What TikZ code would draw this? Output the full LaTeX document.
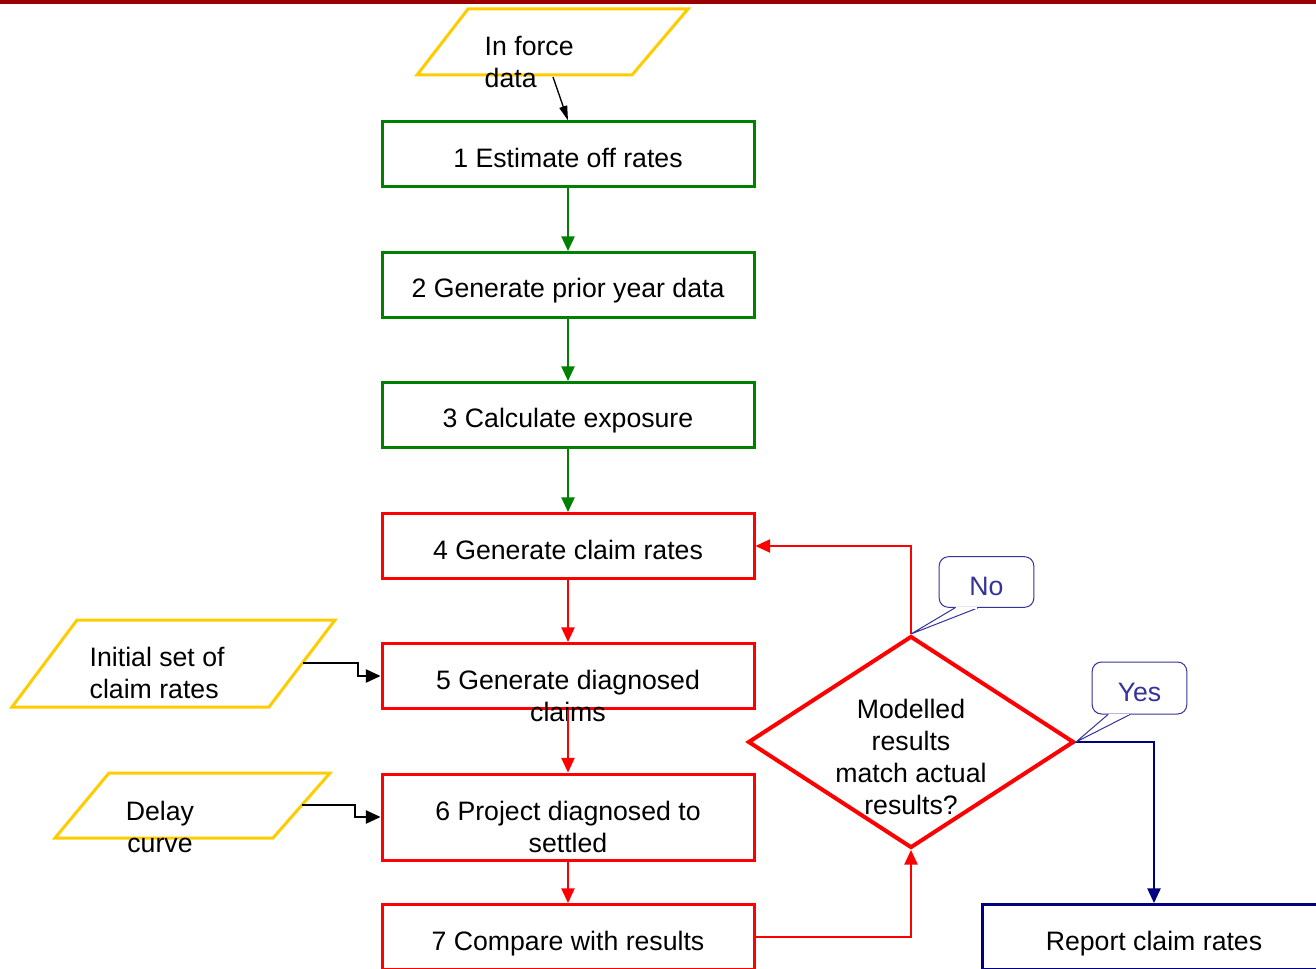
\documentclass[tikz,border=0pt]{standalone}
\usepackage{fontspec}
\setmainfont{Liberation Sans}
\usetikzlibrary{arrows.meta,shapes.geometric}
\definecolor{flowgreen}{RGB}{0,128,0}
\definecolor{flowred}{RGB}{255,0,0}
\definecolor{flowblue}{RGB}{0,0,128}
\definecolor{datayellow}{RGB}{255,204,0}
\definecolor{barred}{RGB}{153,0,0}
\definecolor{tagblue}{RGB}{51,51,153}

\begin{document}
\begin{tikzpicture}[x=0.75pt,y=-0.75pt,
  every node/.style={font=\fontsize{20}{24}\selectfont},
  stepbox/.style={draw,line width=2.25pt,minimum width=279pt,inner sep=0pt},
  databox/.style={draw=datayellow,line width=2.25pt},
  flow/.style={line width=1.1pt,-{Triangle[length=11pt,width=10pt]}},
  tag/.style={draw=tagblue,fill=white,rounded corners=7pt,line width=0.75pt,
    minimum width=71pt,minimum height=38pt,text=tagblue,text height=20pt},
  pointer/.style={draw=tagblue,fill=white,line width=0.75pt}]
  \useasboundingbox (0,0) rectangle (1316,969);
  \fill[barred] (0,0) rectangle (1316,4.5);

  % inputs
  \draw[databox] (468,9) -- (688,9) -- (632,75) -- (417,75) -- cycle;
  \node[align=left,anchor=west] (inforce) at (480,62) {In force\\data};
  \coordinate (inforce out) at (553,77);
  \draw[databox] (77,620) -- (335,620) -- (269,707) -- (12,707) -- cycle;
  \node[align=left,anchor=west] (initial) at (85,673) {Initial set of\\claim rates};
  \coordinate (initial out) at (303,663);
  \draw[databox] (109,773) -- (330,773) -- (273,838) -- (55,838) -- cycle;
  \node[align=center] (delay) at (160,827) {Delay\\curve};
  \coordinate (delay out) at (302,805);

  % steps
  \foreach \nm/\y/\h/\col/\ty/\txt in {
    est/154.5/48.75pt/flowgreen/158/{1 Estimate off rates},
    prior/285/48.75pt/flowgreen/291/{2 Generate prior year data},
    expo/415/48.75pt/flowgreen/421/{3 Calculate exposure},
    gen/546/48.75pt/flowred/550/{4 Generate claim rates},
    diag/676/48.75pt/flowred/696/{5 Generate diagnosed\\claims},
    proj/817/64.5pt/flowred/827/{6 Project diagnosed to\\settled},
    cmp/937/48.75pt/flowred/944/{7 Compare with results}} {
    \node[stepbox,draw=\col,minimum height=\h] (\nm) at (568,\y) {};
    \node[align=center] (\nm-t) at (568,\ty) {\txt};
  }
  \node[stepbox,draw=flowblue,minimum width=258pt,minimum height=48.75pt] (report) at (1154,937) {};
  \node (report-t) at (1154,944) {Report claim rates};

  % decision
  \node[diamond,draw=flowred,line width=3pt,minimum width=244.5pt,minimum height=159pt,inner sep=0pt] (dec) at (911,742) {};
  \node[align=center] (dec-t) at (911,757) {Modelled\\results\\match actual\\results?};

  % connectors
  \draw[line width=1pt,-{Triangle[length=11pt,width=6pt]}] (inforce out) -- (est.north);
  \foreach \a/\b/\col in {est/prior/flowgreen, prior/expo/flowgreen, expo/gen/flowgreen,
    gen/diag/flowred, diag/proj/flowred, proj/cmp/flowred}
    \draw[flow,\col] (\a) -- (\b);
  \draw[flow] (initial out) -- ++(55,0) |- (diag.west);
  \draw[flow] (delay out) -- ++(53,0) |- (proj.west);
  \draw[flow,flowred] (cmp.east) -| (dec.south);
  \draw[flow,flowred] (dec.north) |- (gen.east);
  \draw[flow,flowblue] (dec.east) -| (report.north);

  % answers
  \node[tag] (no) at (986.5,582) {No};
  \path[pointer] ([xshift=-23.6pt]no.south) -- (dec.north) -- ([xshift=-6.4pt]no.south);
  \draw[white,line width=1.2pt] ([xshift=-23pt]no.south) -- ([xshift=-7pt]no.south);
  \node[tag,minimum height=39pt] (yes) at (1139.5,688) {Yes};
  \path[pointer] ([xshift=-23.6pt]yes.south) -- (dec.east) -- ([xshift=-7.1pt]yes.south);
  \draw[white,line width=1.2pt] ([xshift=-23pt]yes.south) -- ([xshift=-7.7pt]yes.south);
\end{tikzpicture}
\end{document}
